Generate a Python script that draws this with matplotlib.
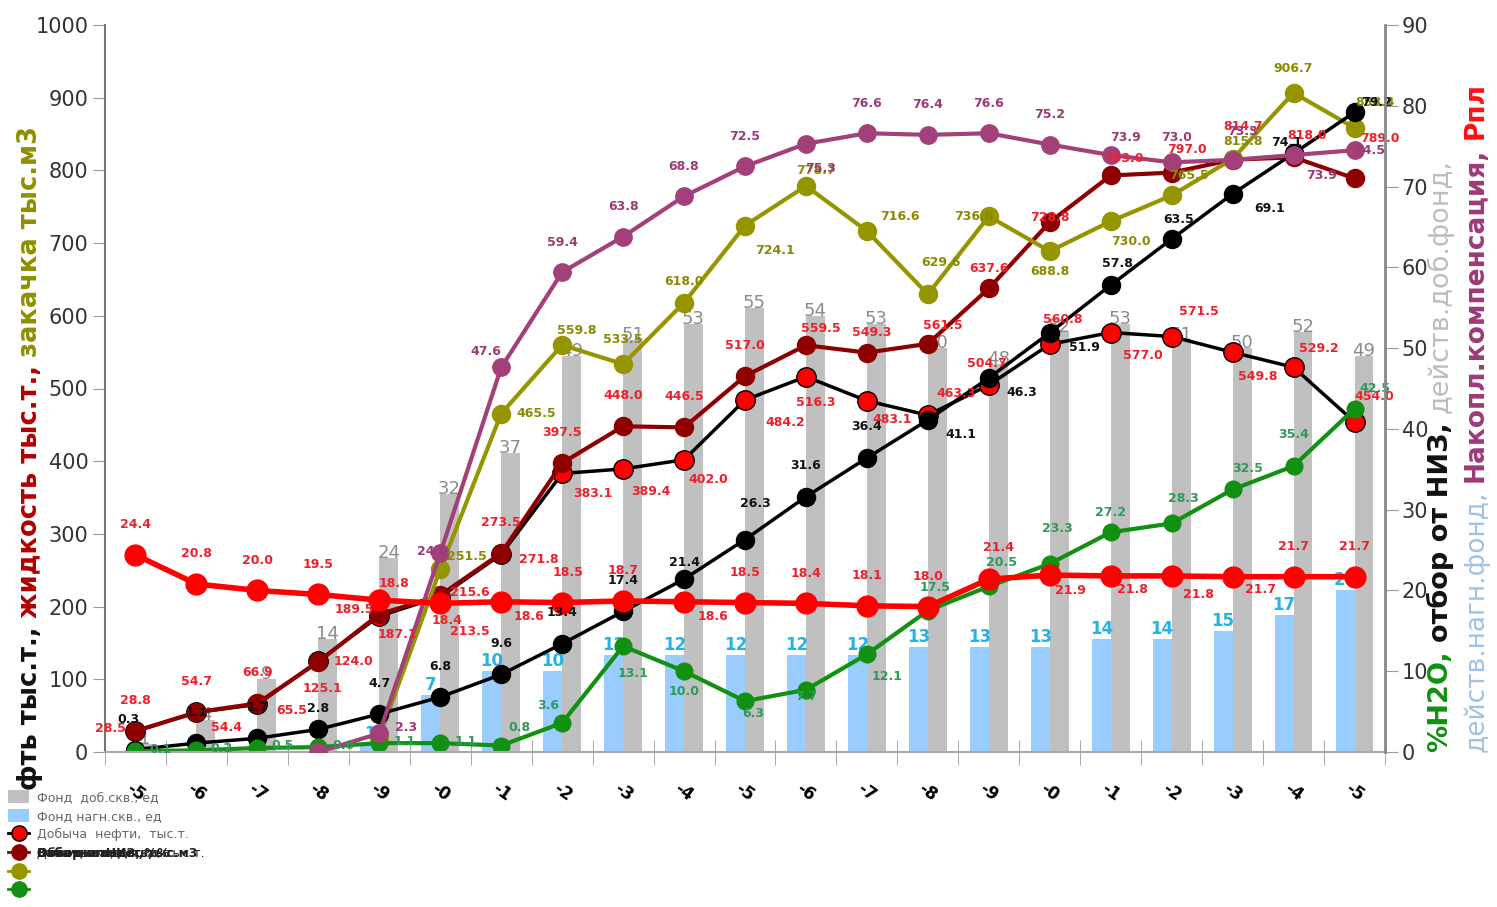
import numpy as np
import matplotlib
matplotlib.use("Agg")
import matplotlib.pyplot as plt
from matplotlib.lines import Line2D
from matplotlib.patches import Patch
from matplotlib.transforms import IdentityTransform

nan = np.nan

# --- data ---
years = ['-5', '-6', '-7', '-8', '-9', '-0', '-1', '-2', '-3', '-4',
         '-5', '-6', '-7', '-8', '-9', '-0', '-1', '-2', '-3', '-4', '-5']

prod_wells = [1, 4, 9, 14, 24, 32, 37, 49, 51, 53, 55, 54, 53, 50, 48, 52, 53, 51, 50, 52, 49]
inj_wells = [0, 0, 0, 0, 1, 7, 10, 10, 12, 12, 12, 12, 12, 13, 13, 13, 14, 14, 15, 17, 20]

oil = [28.5, 54.4, 65.5, 125.1, 187.1, 213.5, 271.8, 383.1, 389.4, 402.0, 484.2,
       516.3, 483.1, 463.3, 504.7, 560.8, 577.0, 571.5, 549.8, 529.2, 454.0]
liquid = [28.8, 54.7, 66.9, 124.0, 189.5, 215.6, 273.5, 397.5, 448.0, 446.5, 517.0,
          559.5, 549.3, 561.5, 637.6, 728.8, 793.0, 797.0, 814.7, 818.0, 789.0]
injection = [nan, nan, nan, nan, 20.0, 251.5, 465.5, 559.8, 533.5, 618.0, 724.1,
             778.7, 716.6, 629.6, 736.8, 688.8, 730.0, 765.5, 815.8, 906.7, 858.4]

water_cut = [0.1, 0.2, 0.5, 0.6, 1.1, 1.1, 0.8, 3.6, 13.1, 10.0, 6.3,
             7.7, 12.1, 17.5, 20.5, 23.3, 27.2, 28.3, 32.5, 35.4, 42.5]
recovery = [0.3, 1.1, 1.7, 2.8, 4.7, 6.8, 9.6, 13.4, 17.4, 21.4, 26.3,
            31.6, 36.4, 41.1, 46.3, 51.9, 57.8, 63.5, 69.1, 74.1, 79.2]
compensation = [nan, nan, nan, 0.0, 2.3, 24.6, 47.6, 59.4, 63.8, 68.8, 72.5,
                75.3, 76.6, 76.4, 76.6, 75.2, 73.9, 73.0, 73.3, 73.9, 74.5]
pressure = [24.4, 20.8, 20.0, 19.5, 18.8, 18.4, 18.6, 18.5, 18.7, 18.6, 18.5,
            18.4, 18.1, 18.0, 21.4, 21.9, 21.8, 21.8, 21.7, 21.7, 21.7]

# --- colours ---
GRAY_BAR = '#C0C0C0'
BLUE_BAR = '#99CCFF'
RED = '#FF0000'
DARKRED = '#8E0000'
OLIVE = '#959500'
PINK = '#A3407A'
GREEN = '#129012'
LBL_RED = '#F0202A'

# label offsets in pixels (dx, dy up)
oil_off = {0: (-25, 3), 1: (30, -15), 2: (34, -6), 3: (4, -27), 4: (18, -19), 5: (30, -35),
           6: (38, -5), 7: (31, -20), 8: (28, -23), 9: (24, -20), 10: (40, -23), 11: (10, -26),
           12: (25, -19), 13: (28, 22), 14: (-2, 22), 15: (13, 25), 16: (32, -23), 17: (27, 25),
           18: (25, -24), 19: (25, 19), 20: (20, 25)}
liq_off = {3: (35, 0), 4: (-25, 5), 5: (30, 3), 11: (15, 17), 12: (5, 20), 13: (15, 18),
           14: (0, 20), 15: (0, 5), 16: (13, 17), 17: (15, 23), 18: (10, 33), 19: (13, 22),
           20: (25, 40)}
inj_off = {5: (27, 13), 6: (35, 0), 7: (15, 15), 8: (0, 25), 9: (0, 21), 10: (30, -25),
           11: (10, 15), 12: (33, 15), 13: (13, 32), 14: (-15, 0), 15: (0, -20), 16: (20, -20),
           17: (17, 20), 18: (10, 17), 19: (0, 24), 20: (20, 25)}
comp_off = {4: (27, 6), 5: (-8, 2), 6: (-15, 16), 11: (15, -25), 16: (15, 18), 17: (5, 25),
            18: (10, 28), 19: (28, -20), 20: (15, 0)}
rec_off = {0: (-7, 30), 3: (0, 21), 9: (0, 17), 10: (10, 36), 13: (33, -14), 14: (33, -15),
           15: (35, -15), 16: (7, 22), 17: (7, 20), 18: (37, -15), 19: (-7, 11), 20: (22, 10)}
wc_off = {0: (25, 2), 1: (25, 2), 2: (25, 2), 3: (25, 2), 4: (25, 2), 5: (25, 2),
          6: (18, 18), 7: (-14, 17), 8: (10, -27), 9: (0, -20), 10: (8, -12), 11: (0, -7),
          12: (20, -22), 13: (7, 23), 14: (13, 24), 15: (8, 35), 16: (0, 20), 17: (12, 25),
          18: (15, 21), 19: (0, 32), 20: (20, 20)}
pr_off = {4: (15, 17), 5: (7, -17), 6: (28, -15), 7: (6, 30), 9: (29, -15), 14: (10, 32),
          15: (21, -15), 16: (22, -14), 17: (27, -19), 18: (28, -13)}


def add_labels(ax, xs, vals, trans, color, offsets, default=(0, 30), skip=(),
               fs=9, weight='bold', z=10, fmt='{:.1f}'):
    for i, v in enumerate(vals):
        if np.isnan(v) or i in skip:
            continue
        dx, dy = offsets.get(i, default)
        ax.annotate(fmt.format(v), (xs[i], v), xycoords=trans, xytext=(dx, dy),
                    textcoords='offset pixels', ha='center', va='center',
                    color=color, fontsize=fs, fontweight=weight, zorder=z)


W, H = 1497, 907
fig = plt.figure(figsize=(W / 100, H / 100), dpi=100)
ax = fig.add_axes([105 / W, 1 - 752 / H, (1385 - 105) / W, (752 - 25) / H])
ax2 = ax.twinx()

ax.set_xlim(-0.5, 20.5)
ax.set_ylim(0, 1000)
ax2.set_ylim(0, 90)
tr1 = ax.transData
tr2 = ax2.transData

x = np.arange(len(years))
bw = 0.31

# bars (right axis)
ax.bar(x - bw / 2, inj_wells, bw, color=BLUE_BAR, transform=tr2, zorder=1)
ax.bar(x + bw / 2, prod_wells, bw, color=GRAY_BAR, transform=tr2, zorder=1)
add_labels(ax, x + bw / 2, prod_wells, tr2, '#8A8A8A', {}, default=(0, 5),
           fs=13, weight='normal', z=1.5, fmt='{:d}')
add_labels(ax, x - bw / 2, [v if v > 0 else nan for v in inj_wells], tr2, '#22B4E6', {},
           default=(0, 10), fs=12, z=1.5, fmt='{:.0f}')

# lines
ax.plot(x, oil, color='black', lw=2.5, marker='o', ms=14, mfc=RED, mec='black', mew=1,
        transform=tr1, zorder=2.1)
ax.plot(x, liquid, color=DARKRED, lw=3, marker='o', ms=13, mfc=DARKRED, mec=DARKRED,
        transform=tr1, zorder=2.2)
ax.plot(x, injection, color=OLIVE, lw=3, marker='o', ms=13, mfc=OLIVE, mec=OLIVE,
        transform=tr1, zorder=2.3)
ax.plot(x, recovery, color='black', lw=2.5, marker='o', ms=13, mfc='black', mec='black',
        transform=tr2, zorder=2.4)
ax.plot(x, water_cut, color=GREEN, lw=3, marker='o', ms=12, mfc=GREEN, mec=GREEN,
        transform=tr2, zorder=2.5)
ax.plot(x, compensation, color=PINK, lw=3, marker='o', ms=12.5, mfc=PINK, mec=PINK,
        transform=tr2, zorder=2.6)
ax.plot(x, pressure, color=RED, lw=4, marker='o', ms=15, mfc=RED, mec=RED,
        transform=tr2, zorder=2.7)

add_labels(ax, x, oil, tr1, LBL_RED, oil_off, default=(28, -22))
add_labels(ax, x, liquid, tr1, LBL_RED, liq_off, default=(0, 31))
add_labels(ax, x, injection, tr1, '#8A8A00', inj_off, default=(15, 18), skip=(4,))
add_labels(ax, x, recovery, tr2, '#111111', rec_off, default=(0, 31))
add_labels(ax, x, water_cut, tr2, '#2E9A5A', wc_off, default=(10, 22))
add_labels(ax, x, compensation, tr2, '#9C3A78', comp_off, default=(0, 30), skip=(3,))
add_labels(ax, x, pressure, tr2, LBL_RED, pr_off, default=(0, 30))

# axes styling
ax.set_xticks(x)
ax.set_xticklabels(years, rotation=-35, fontsize=12, fontweight='bold')
ax.set_xticks(np.arange(-0.5, 21, 1), minor=True)
ax.tick_params(axis='x', which='major', length=0, pad=20)
ax.tick_params(axis='x', which='minor', length=18, direction='inout', color='#999999')
ax.set_yticks(np.arange(0, 1001, 100))
ax.tick_params(axis='y', direction='out', length=9, color='#999999', labelsize=15,
               labelcolor='#333333', pad=3)
ax2.set_yticks(np.arange(0, 91, 10))
ax2.tick_params(axis='y', direction='out', length=9, color='#999999', labelsize=15,
                labelcolor='#333333', pad=3)
for s in ['top', 'right']:
    ax.spines[s].set_visible(False)
for s in ['top', 'left', 'bottom']:
    ax2.spines[s].set_visible(False)
ax.spines['left'].set_color('#777777')
ax.spines['left'].set_linewidth(1.5)
ax.spines['bottom'].set_color('#AAAAAA')
ax.spines['bottom'].set_linewidth(1.5)
ax2.spines['right'].set_color('#888888')
ax2.spines['right'].set_linewidth(2)

# legend
handles = [
    Patch(facecolor=GRAY_BAR),
    Patch(facecolor=BLUE_BAR),
    Line2D([], [], color='black', lw=2, marker='o', ms=11, mfc=RED, mec='black'),
    Line2D([], [], color=DARKRED, lw=2, marker='o', ms=11, mfc=DARKRED, mec=DARKRED),
    Line2D([], [], color=OLIVE, lw=2, marker='o', ms=11, mfc=OLIVE, mec=OLIVE),
    Line2D([], [], color=GREEN, lw=2, marker='o', ms=11, mfc=GREEN, mec=GREEN),
]
labels = ['Фонд  доб.скв., ед', 'Фонд нагн.скв., ед', 'Добыча  нефти,  тыс.т.',
          'Добыча жидкости, тыс.т.', '', '']
leg = fig.legend(handles, labels, loc='upper left', bbox_to_anchor=(8 / W, 1 - 790 / H),
                 frameon=False, fontsize=9, labelcolor='#666666', handlelength=1.7,
                 handleheight=1.25, handletextpad=0.6, labelspacing=0.4, borderpad=0,
                 borderaxespad=0)

fig.canvas.draw()
renderer = fig.canvas.get_renderer()

# overprinted legend row
t4 = leg.get_texts()[3]
t4.set_color('#222222')
bb = t4.get_window_extent(renderer)
for s in ['Закачка воды, тыс.м3', 'Обводненность, %', 'Отбор от НИЗ, %']:
    fig.text(bb.x0, bb.y0, s, transform=IdentityTransform(), ha='left', va='bottom',
             fontsize=9, color='#222222', fontweight='bold')


def stacked_text(x_img, y_img, parts, fs):
    y = H - y_img
    for txt, color, weight in parts:
        t = fig.text(x_img, y, txt, transform=IdentityTransform(), rotation=90,
                     ha='center', va='bottom', fontsize=fs, color=color, fontweight=weight)
        y = t.get_window_extent(renderer).y1 + fs * 0.45


stacked_text(30, 790, [('фть тыс.т.,', '#111111', 'bold'),
                       ('жидкость тыс.т.,', '#B00000', 'bold'),
                       ('закачка тыс.м3', '#8F8F00', 'bold')], 18.5)
stacked_text(1440, 752, [('%H2O,', '#109010', 'bold'),
                         ('отбор от НИЗ,', '#111111', 'bold'),
                         ('действ.доб.фонд,', '#BDBDBD', 'normal')], 19.5)
stacked_text(1476, 752, [('действ.нагн.фонд,', '#9DC3E6', 'normal'),
                         ('Накопл.компенсация,', '#9C3A78', 'bold'),
                         ('Рпл', '#FF1010', 'bold')], 19)

fig.savefig('out.png', dpi=100, facecolor='white')
